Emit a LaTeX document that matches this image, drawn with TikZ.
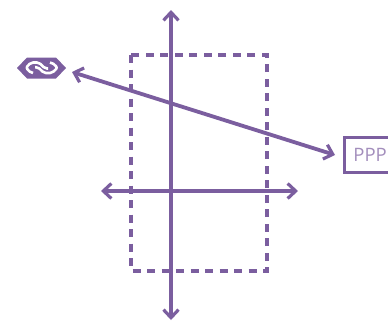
\documentclass[tikz,border=0pt]{standalone}
\usepackage{fontspec}
\setmainfont{Open Sans}
\usetikzlibrary{arrows.meta}
\definecolor{pur}{HTML}{7B5E9F}
\tikzset{
  conn/.style={draw=pur,line width=3.8pt,{Straight Barb[length=8pt,width=15pt,line width=3.2pt]}-{Straight Barb[length=8pt,width=15pt,line width=3.2pt]}},
  zone/.style={draw=pur,line width=3.8pt,dash pattern=on 8pt off 6.5pt},
  boxn/.style={draw=pur,line width=3.8pt,text=pur!70,minimum width=60pt,minimum height=35pt,inner sep=0pt,anchor=west,font=\fontsize{18.5}{22}\selectfont,text width=54pt,align=left},
  wave/.style={white,line width=2.6pt,line join=round,rounded corners=2pt}
}
\begin{document}
\begin{tikzpicture}[x=1pt,y=-1pt]
\useasboundingbox (0,0) rectangle (388,322);
\draw[zone] (131,55) rectangle (267,271);
\coordinate (top) at (171,10);
\coordinate (bot) at (171,320);
\coordinate (lft) at (101,191);
\coordinate (rgt) at (298,191);
\coordinate (logoe) at (72,72);
\coordinate (boxe) at (335,155);
\node[boxn] (ppp) at (342.5,155) {\hspace*{6pt}PPP};
\draw[conn] (top) -- (bot);
\draw[conn] (lft) -- (rgt);
\draw[conn] (logoe) -- (boxe);
\fill[pur] (17,68) -- (27,57.5) -- (56,57.5) -- (66,68) -- (56,78.5) -- (27,78.5) -- cycle;
\draw[wave] (33,73) -- (31,73) -- (26,67.7) -- (31,62.5) -- (39,62.5) -- (45,68.5) -- (48,68.5);
\draw[wave] (35,67.2) -- (38,67.2) -- (44,73) -- (52,73) -- (57.5,67.7) -- (52,62.5) -- (50,62.5);
\end{tikzpicture}
\end{document}
